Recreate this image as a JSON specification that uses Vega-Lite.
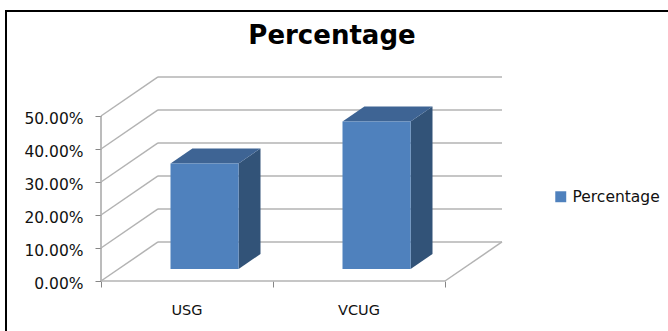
{
  "$schema": "https://vega.github.io/schema/vega-lite/v6.json",
  "width": 664,
  "height": 322,
  "autosize": "none",
  "padding": {"left": 6, "top": 11, "right": 0, "bottom": 0},
  "background": "white",
  "view": {"stroke": "#000000", "strokeWidth": 2},
  "title": {
    "text": "Percentage",
    "font": "DejaVu Sans",
    "fontWeight": "bold",
    "fontSize": 26,
    "color": "#000000",
    "anchor": "middle",
    "frame": "group",
    "dx": -6,
    "dy": 26,
    "offset": -33,
    "baseline": "alphabetic"
  },
  "config": {
    "axisX": {
      "orient": "bottom", "offset": -52, "labels": false, "domain": false, "grid": false,
      "ticks": true, "tickSize": 6, "tickColor": "#868686", "title": null
    },
    "axisY": {
      "orient": "left", "offset": -95, "domain": false, "grid": false,
      "tickSize": 6, "tickColor": "#868686", "title": null,
      "labelFont": "DejaVu Sans", "labelFontSize": 15.5, "labelColor": "#111111",
      "labelPadding": 12, "labelOffset": 3
    }
  },
  "params": [
    {"name": "depthX", "value": 0.3314},
    {"name": "depthY", "value": 0.1182},
    {"name": "barFront", "value": 0.308},
    {"name": "barBack", "value": 0.692},
    {"name": "barHalf", "value": 0.198}
  ],
  "datasets": {
    "bars": [
      {"category": "USG", "series": "Percentage", "value": 0.32},
      {"category": "VCUG", "series": "Percentage", "value": 0.447}
    ],
    "ticks": [{"v": 0}, {"v": 0.1}, {"v": 0.2}, {"v": 0.3}, {"v": 0.4}, {"v": 0.5}]
  },
  "layer": [
    {
      "description": "Value axis with its labels and tick marks",
      "data": {"name": "ticks"},
      "mark": {"type": "rule", "color": "#a6a6a6", "strokeWidth": 1.5},
      "transform": [
        {"aggregate": [{"op": "min", "field": "v", "as": "low"}, {"op": "max", "field": "v", "as": "top"}]},
        {"calculate": "0", "as": "x0"}
      ],
      "encoding": {
        "x": {
          "field": "x0",
          "type": "quantitative",
          "title": null,
          "scale": {"domain": [-0.5523, 3.3081], "nice": false, "zero": false},
          "axis": {"values": [0, 1, 2]}
        },
        "y": {
          "field": "low",
          "type": "quantitative",
          "title": null,
          "scale": {"domain": [-0.15758, 0.81818], "nice": false, "zero": false},
          "axis": {"values": [0, 0.1, 0.2, 0.3, 0.4, 0.5], "format": ".2%"}
        },
        "y2": {"field": "top"}
      }
    },
    {
      "description": "Back wall gridlines, shifted by the depth of the floor",
      "data": {"name": "ticks"},
      "transform": [
        {"calculate": "depthX", "as": "x0"},
        {"calculate": "2 + depthX", "as": "x1"},
        {"calculate": "datum.v + depthY", "as": "yb"}
      ],
      "mark": {"type": "rule", "color": "#b3b3b3", "strokeWidth": 1.5},
      "encoding": {
        "x": {"field": "x0", "type": "quantitative", "title": null},
        "x2": {"field": "x1"},
        "y": {"field": "yb", "type": "quantitative", "title": null}
      }
    },
    {
      "description": "Side wall diagonals joining the value axis to the back wall",
      "data": {"name": "ticks"},
      "transform": [
        {"calculate": "0", "as": "x0"},
        {"calculate": "depthX", "as": "x1"},
        {"calculate": "datum.v + depthY", "as": "yb"}
      ],
      "mark": {"type": "rule", "color": "#b3b3b3", "strokeWidth": 1.5},
      "encoding": {
        "x": {"field": "x0", "type": "quantitative", "title": null},
        "x2": {"field": "x1"},
        "y": {"field": "v", "type": "quantitative", "title": null},
        "y2": {"field": "yb"}
      }
    },
    {
      "description": "Front and right edges of the floor",
      "data": {"values": [{"x0": 0, "x1": 2, "y0": 0, "y1": 0}, {"x0": 2, "x1": 2.3314, "y0": 0, "y1": 0.1182}]},
      "mark": {"type": "rule", "color": "#b3b3b3", "strokeWidth": 1.5},
      "encoding": {
        "x": {"field": "x0", "type": "quantitative", "title": null},
        "x2": {"field": "x1"},
        "y": {"field": "y0", "type": "quantitative", "title": null},
        "y2": {"field": "y1"}
      }
    },
    {
      "description": "Right side face of each bar",
      "data": {"name": "bars"},
      "transform": [
        {"calculate": "[barFront, barBack]", "as": "depth"},
        {"flatten": ["depth"]},
        {"calculate": "indexof(['USG', 'VCUG'], datum.category) + 0.5 + barHalf + datum.depth * depthX", "as": "xs"},
        {"calculate": "datum.value + datum.depth * depthY", "as": "yTop"},
        {"calculate": "datum.depth * depthY", "as": "yBase"}
      ],
      "mark": {"type": "area", "color": "#325378"},
      "encoding": {
        "x": {"field": "xs", "type": "quantitative", "title": null},
        "y": {"field": "yTop", "type": "quantitative", "title": null},
        "y2": {"field": "yBase"},
        "detail": {"field": "category"}
      }
    },
    {
      "description": "Top face of each bar",
      "data": {"name": "bars"},
      "transform": [
        {"calculate": "[barFront, barBack]", "as": "depth"},
        {"flatten": ["depth"]},
        {"calculate": "indexof(['USG', 'VCUG'], datum.category) + 0.5 - barHalf + datum.depth * depthX", "as": "xl"},
        {"calculate": "indexof(['USG', 'VCUG'], datum.category) + 0.5 + barHalf + datum.depth * depthX", "as": "xr"},
        {"calculate": "datum.value + datum.depth * depthY", "as": "yTop"}
      ],
      "mark": {"type": "area", "orient": "horizontal", "color": "#3e6494"},
      "encoding": {
        "x": {"field": "xl", "type": "quantitative", "title": null},
        "x2": {"field": "xr"},
        "y": {"field": "yTop", "type": "quantitative", "title": null},
        "detail": {"field": "category"}
      }
    },
    {
      "description": "Front face of each bar, which also feeds the legend",
      "data": {"name": "bars"},
      "transform": [
        {"calculate": "indexof(['USG', 'VCUG'], datum.category) + 0.5 - barHalf + barFront * depthX", "as": "xl"},
        {"calculate": "indexof(['USG', 'VCUG'], datum.category) + 0.5 + barHalf + barFront * depthX", "as": "xr"},
        {"calculate": "datum.value + barFront * depthY", "as": "yTop"},
        {"calculate": "barFront * depthY", "as": "yBase"}
      ],
      "mark": {"type": "rect"},
      "encoding": {
        "x": {"field": "xl", "type": "quantitative", "title": null},
        "x2": {"field": "xr"},
        "y": {"field": "yTop", "type": "quantitative", "title": null},
        "y2": {"field": "yBase"},
        "color": {
          "field": "series",
          "type": "nominal",
          "scale": {"range": ["#4f81bd"]},
          "legend": {
            "orient": "none",
            "legendX": 547,
            "legendY": 178,
            "title": null,
            "symbolType": "square",
            "symbolSize": 120,
            "symbolStrokeWidth": 0,
            "labelFont": "DejaVu Sans",
            "labelFontSize": 15.5,
            "labelColor": "#111111",
            "labelOffset": 4
          }
        }
      }
    },
    {
      "description": "Category names under the floor",
      "data": {"name": "bars"},
      "transform": [
        {"calculate": "indexof(['USG', 'VCUG'], datum.category) + 0.5", "as": "xc"},
        {"calculate": "0", "as": "y0"}
      ],
      "mark": {"type": "text", "font": "DejaVu Sans", "fontSize": 14.5, "color": "#111111", "dy": 30},
      "encoding": {
        "x": {"field": "xc", "type": "quantitative", "title": null},
        "y": {"field": "y0", "type": "quantitative", "title": null},
        "text": {"field": "category"}
      }
    }
  ]
}
